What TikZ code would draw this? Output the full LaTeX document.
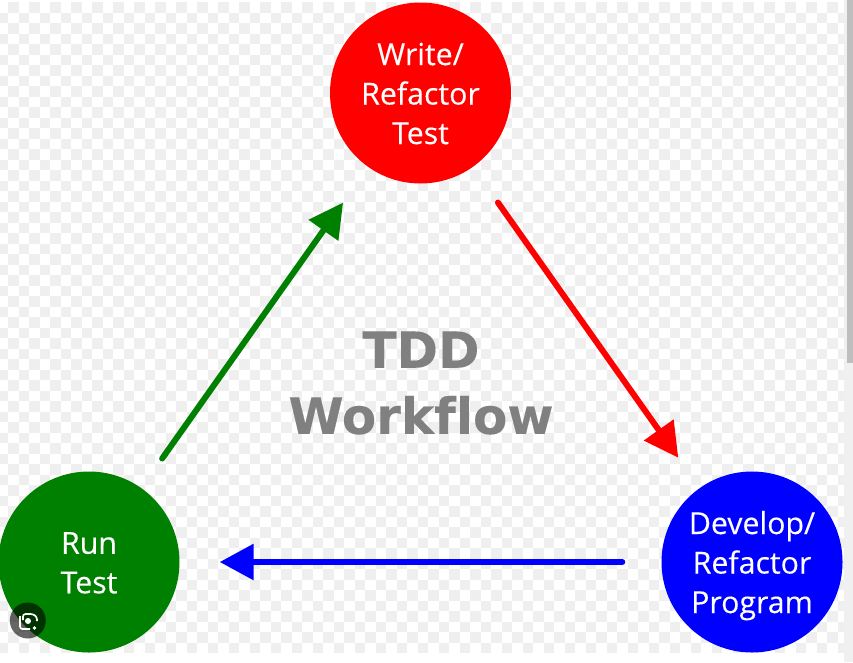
\documentclass[tikz,border=0pt]{standalone}
\usepackage{fontspec}
\setmainfont{Open Sans}[FakeBold=0.25]
\newfontfamily\titlefont{DejaVu Sans Bold}[Ligatures=NoCommon,FakeBold=0.2]
\usetikzlibrary{arrows.meta}
\definecolor{checkgrey}{HTML}{EFEFEF}
\definecolor{barlight}{HTML}{F0F0F0}
\definecolor{barthumb}{HTML}{BEBEBE}
\definecolor{tddgreen}{HTML}{008000}
\definecolor{tddgrey}{HTML}{808080}
\newcommand{\toprow}[1]{\rule{0pt}{23pt}\smash{#1}}
\tikzset{
  x=1pt,y=-1pt,
  stage/.style={circle,minimum size=181pt,inner sep=0pt,align=center,text=white,
    font=\fontsize{30.3}{39.5}\selectfont},
  flow/.style={line width=6pt,line cap=round,-{Triangle[length=34pt,width=35pt]}},
}
\begin{document}
\begin{tikzpicture}
\useasboundingbox (0,0) rectangle (853,662);
\begin{scope}
\clip (0,0) rectangle (853,662);
\fill[white] (0,0) rectangle (853,662);
% checkerboard
\begin{scope}
\clip (0,2) rectangle (844,653);
\foreach \j in {0,...,61}{
  \pgfmathtruncatemacro{\st}{mod(\j,2)==0 ? 0 : -1}
  \pgfmathtruncatemacro{\nx}{\st+2}
  \foreach \i in {\st,\nx,...,80}{
    \fill[checkgrey] ({8+10.5*\i},{2+10.5*\j}) rectangle ++(10.5,10.5);
  }
}
\end{scope}
% scrollbar
\fill[barlight] (844,0) rectangle (853,662);
\fill[barthumb] (847,0) rectangle (853,363);
% nodes
\node[stage,fill=red] (write) at (420.5,93) {\toprow{Write/}\\Refactor\\\smash{Test}};
\node[stage,fill=tddgreen] (run) at (89,562) {\toprow{Run}\\\smash{Test}};
\node[stage,fill=blue] (develop) at (752,562) {\toprow{Develop/}\\Refactor\\\smash{Program}};
\node[align=center,text=tddgrey,inner sep=0pt,font=\titlefont\fontsize{50}{66}\selectfont] (title) at (421,383) {TDD\\Workflow};
% connectors
\draw[flow,draw=tddgreen,fill=tddgreen,shorten <=36pt,shorten >=43.5pt] (run) -- (write);
\draw[flow,draw=red,fill=red,shorten <=43.5pt,shorten >=37pt] (write) -- (develop);
\draw[flow,draw=blue,fill=blue,shorten <=39pt,shorten >=40pt] (develop) -- (run);
% lens badge
\fill[black,opacity=.6] (27.8,620.5) circle (18);
\draw[white,line width=1.7pt,line join=round,rounded corners=2.5pt]
  (23,620) -- (23,614) -- (33,614) -- (37,617) -- (37,621);
\draw[white,line width=1.7pt,rounded corners=2.5pt]
  (20,616) -- (20,629) -- (30,629);
\fill[white] (28,621) circle (3);
\fill[white] (34.5,628) circle (1.8);
\end{scope}
\end{tikzpicture}
\end{document}
